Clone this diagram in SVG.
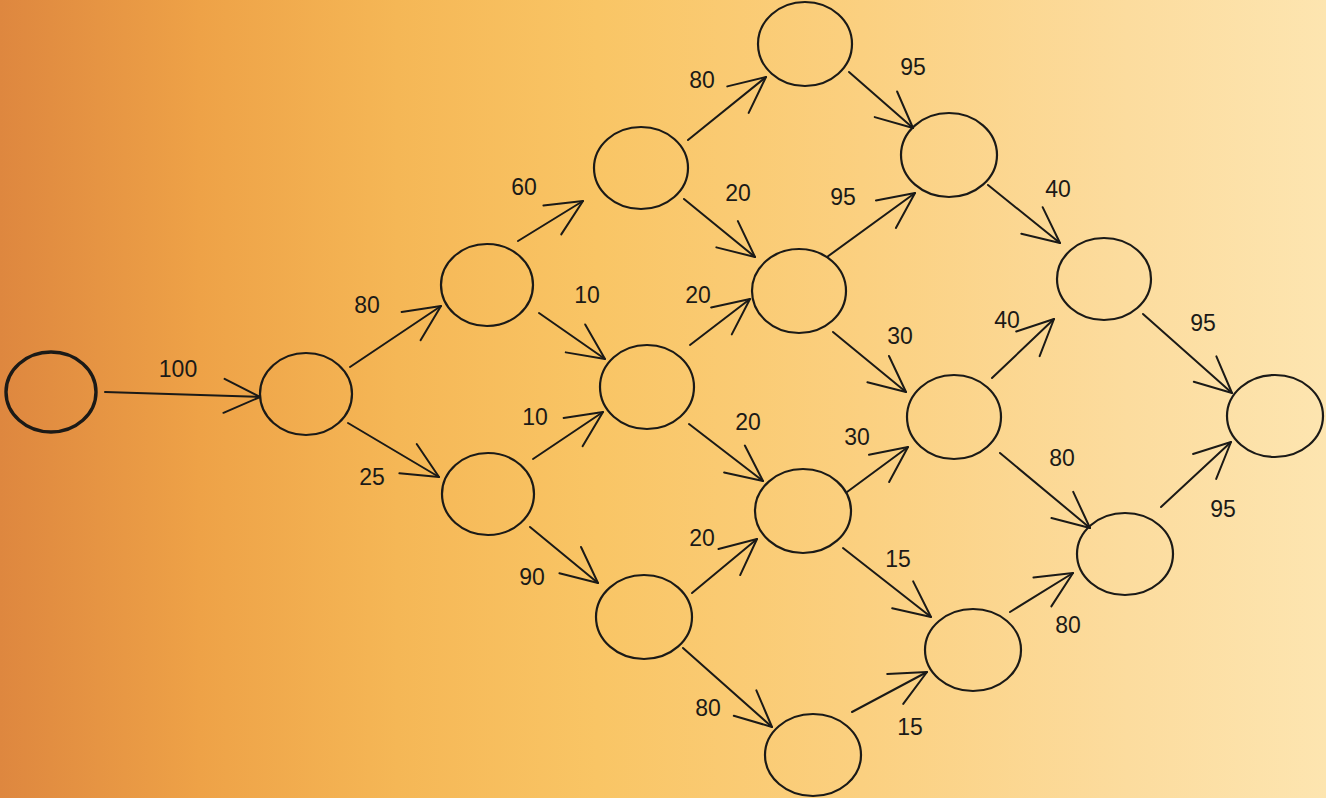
<svg xmlns="http://www.w3.org/2000/svg" width="1326" height="798" viewBox="0 0 1326 798">
<style>
.n{fill:none;stroke:#1b1a17;stroke-width:2.2}
.e{fill:none;stroke:#1b1a17;stroke-width:2;stroke-linecap:round;marker-end:url(#ah)}
.l{font-family:"Liberation Sans",Arial,sans-serif;font-size:23px;fill:#1b1a17;text-anchor:middle;dominant-baseline:central}
</style>
<defs>
<linearGradient id="bg" x1="0" y1="0" x2="1" y2="0">
<stop offset="0" stop-color="#de873f"/>
<stop offset="0.15" stop-color="#eea247"/>
<stop offset="0.3" stop-color="#f5b756"/>
<stop offset="0.45" stop-color="#f9c565"/>
<stop offset="0.65" stop-color="#fbd080"/>
<stop offset="0.85" stop-color="#fcdc9e"/>
<stop offset="1" stop-color="#fde5b0"/>
</linearGradient>
<marker id="ah" markerUnits="userSpaceOnUse" markerWidth="60" markerHeight="60" refX="0" refY="0" viewBox="-50 -30 60 60" orient="auto" overflow="visible">
<path d="M-36,-17 L0,0 L-36,17" fill="none" stroke="#1b1a17" stroke-width="2" stroke-linecap="round" stroke-linejoin="round"/>
</marker>
</defs>
<rect width="1326" height="798" fill="url(#bg)"/>
<g id="connectors">
<path class="e" d="M105,392 L260,397"/>
<path class="e" d="M350,367 L441,306"/>
<path class="e" d="M348,423 L439,477"/>
<path class="e" d="M518,241 L583,201"/>
<path class="e" d="M539,313 L605,359"/>
<path class="e" d="M533,459 L603,412"/>
<path class="e" d="M530,527 L598,583"/>
<path class="e" d="M688,140 L766,77"/>
<path class="e" d="M684,199 L755,257"/>
<path class="e" d="M690,345 L750,299"/>
<path class="e" d="M689,424 L763,481"/>
<path class="e" d="M692,593 L757,539"/>
<path class="e" d="M683,648 L772,727"/>
<path class="e" d="M849,72 L913,128"/>
<path class="e" d="M827,257 L915,193"/>
<path class="e" d="M833,332 L906,392"/>
<path class="e" d="M847,492 L908,447"/>
<path class="e" d="M843,548 L931,617"/>
<path class="e" d="M852,712 L927,672"/>
<path class="e" d="M988,185 L1060,243"/>
<path class="e" d="M992,378 L1054,319"/>
<path class="e" d="M1000,453 L1090,528"/>
<path class="e" d="M1010,612 L1073,573"/>
<path class="e" d="M1143,314 L1232,393"/>
<path class="e" d="M1161,507 L1231,442"/>
</g>
<g id="labels">
<text class="l" x="178" y="369">100</text>
<text class="l" x="367" y="305">80</text>
<text class="l" x="372" y="477">25</text>
<text class="l" x="524" y="187">60</text>
<text class="l" x="587" y="295">10</text>
<text class="l" x="535" y="417">10</text>
<text class="l" x="532" y="577">90</text>
<text class="l" x="702" y="80">80</text>
<text class="l" x="738" y="193">20</text>
<text class="l" x="698" y="295">20</text>
<text class="l" x="748" y="422">20</text>
<text class="l" x="702" y="538">20</text>
<text class="l" x="708" y="708">80</text>
<text class="l" x="913" y="67">95</text>
<text class="l" x="843" y="197">95</text>
<text class="l" x="900" y="336">30</text>
<text class="l" x="857" y="437">30</text>
<text class="l" x="898" y="559">15</text>
<text class="l" x="910" y="727">15</text>
<text class="l" x="1058" y="189">40</text>
<text class="l" x="1007" y="320">40</text>
<text class="l" x="1062" y="458">80</text>
<text class="l" x="1068" y="625">80</text>
<text class="l" x="1203" y="323">95</text>
<text class="l" x="1223" y="509">95</text>
</g>
<g id="n0"><ellipse class="n" cx="51" cy="392" rx="45" ry="40" style="stroke-width:3.4"/></g>
<g id="n1"><ellipse class="n" cx="306" cy="394" rx="46" ry="41"/></g>
<g id="n2"><ellipse class="n" cx="487" cy="285" rx="46" ry="41"/></g>
<g id="n3"><ellipse class="n" cx="488" cy="494" rx="46" ry="41"/></g>
<g id="n4"><ellipse class="n" cx="641" cy="168" rx="47" ry="41"/></g>
<g id="n5"><ellipse class="n" cx="647" cy="387" rx="47" ry="42"/></g>
<g id="n6"><ellipse class="n" cx="644" cy="617" rx="48" ry="42"/></g>
<g id="n7"><ellipse class="n" cx="805" cy="44" rx="47" ry="42"/></g>
<g id="n8"><ellipse class="n" cx="799" cy="291" rx="47" ry="42"/></g>
<g id="n9"><ellipse class="n" cx="803" cy="511" rx="48" ry="42"/></g>
<g id="n10"><ellipse class="n" cx="813" cy="755" rx="48" ry="41"/></g>
<g id="n11"><ellipse class="n" cx="949" cy="155" rx="48" ry="42"/></g>
<g id="n12"><ellipse class="n" cx="954" cy="417" rx="47" ry="42"/></g>
<g id="n13"><ellipse class="n" cx="973" cy="650" rx="48" ry="41"/></g>
<g id="n14"><ellipse class="n" cx="1104" cy="279" rx="47" ry="41"/></g>
<g id="n15"><ellipse class="n" cx="1125" cy="554" rx="48" ry="41"/></g>
<g id="n16"><ellipse class="n" cx="1275" cy="416" rx="48" ry="41"/></g>
</svg>
